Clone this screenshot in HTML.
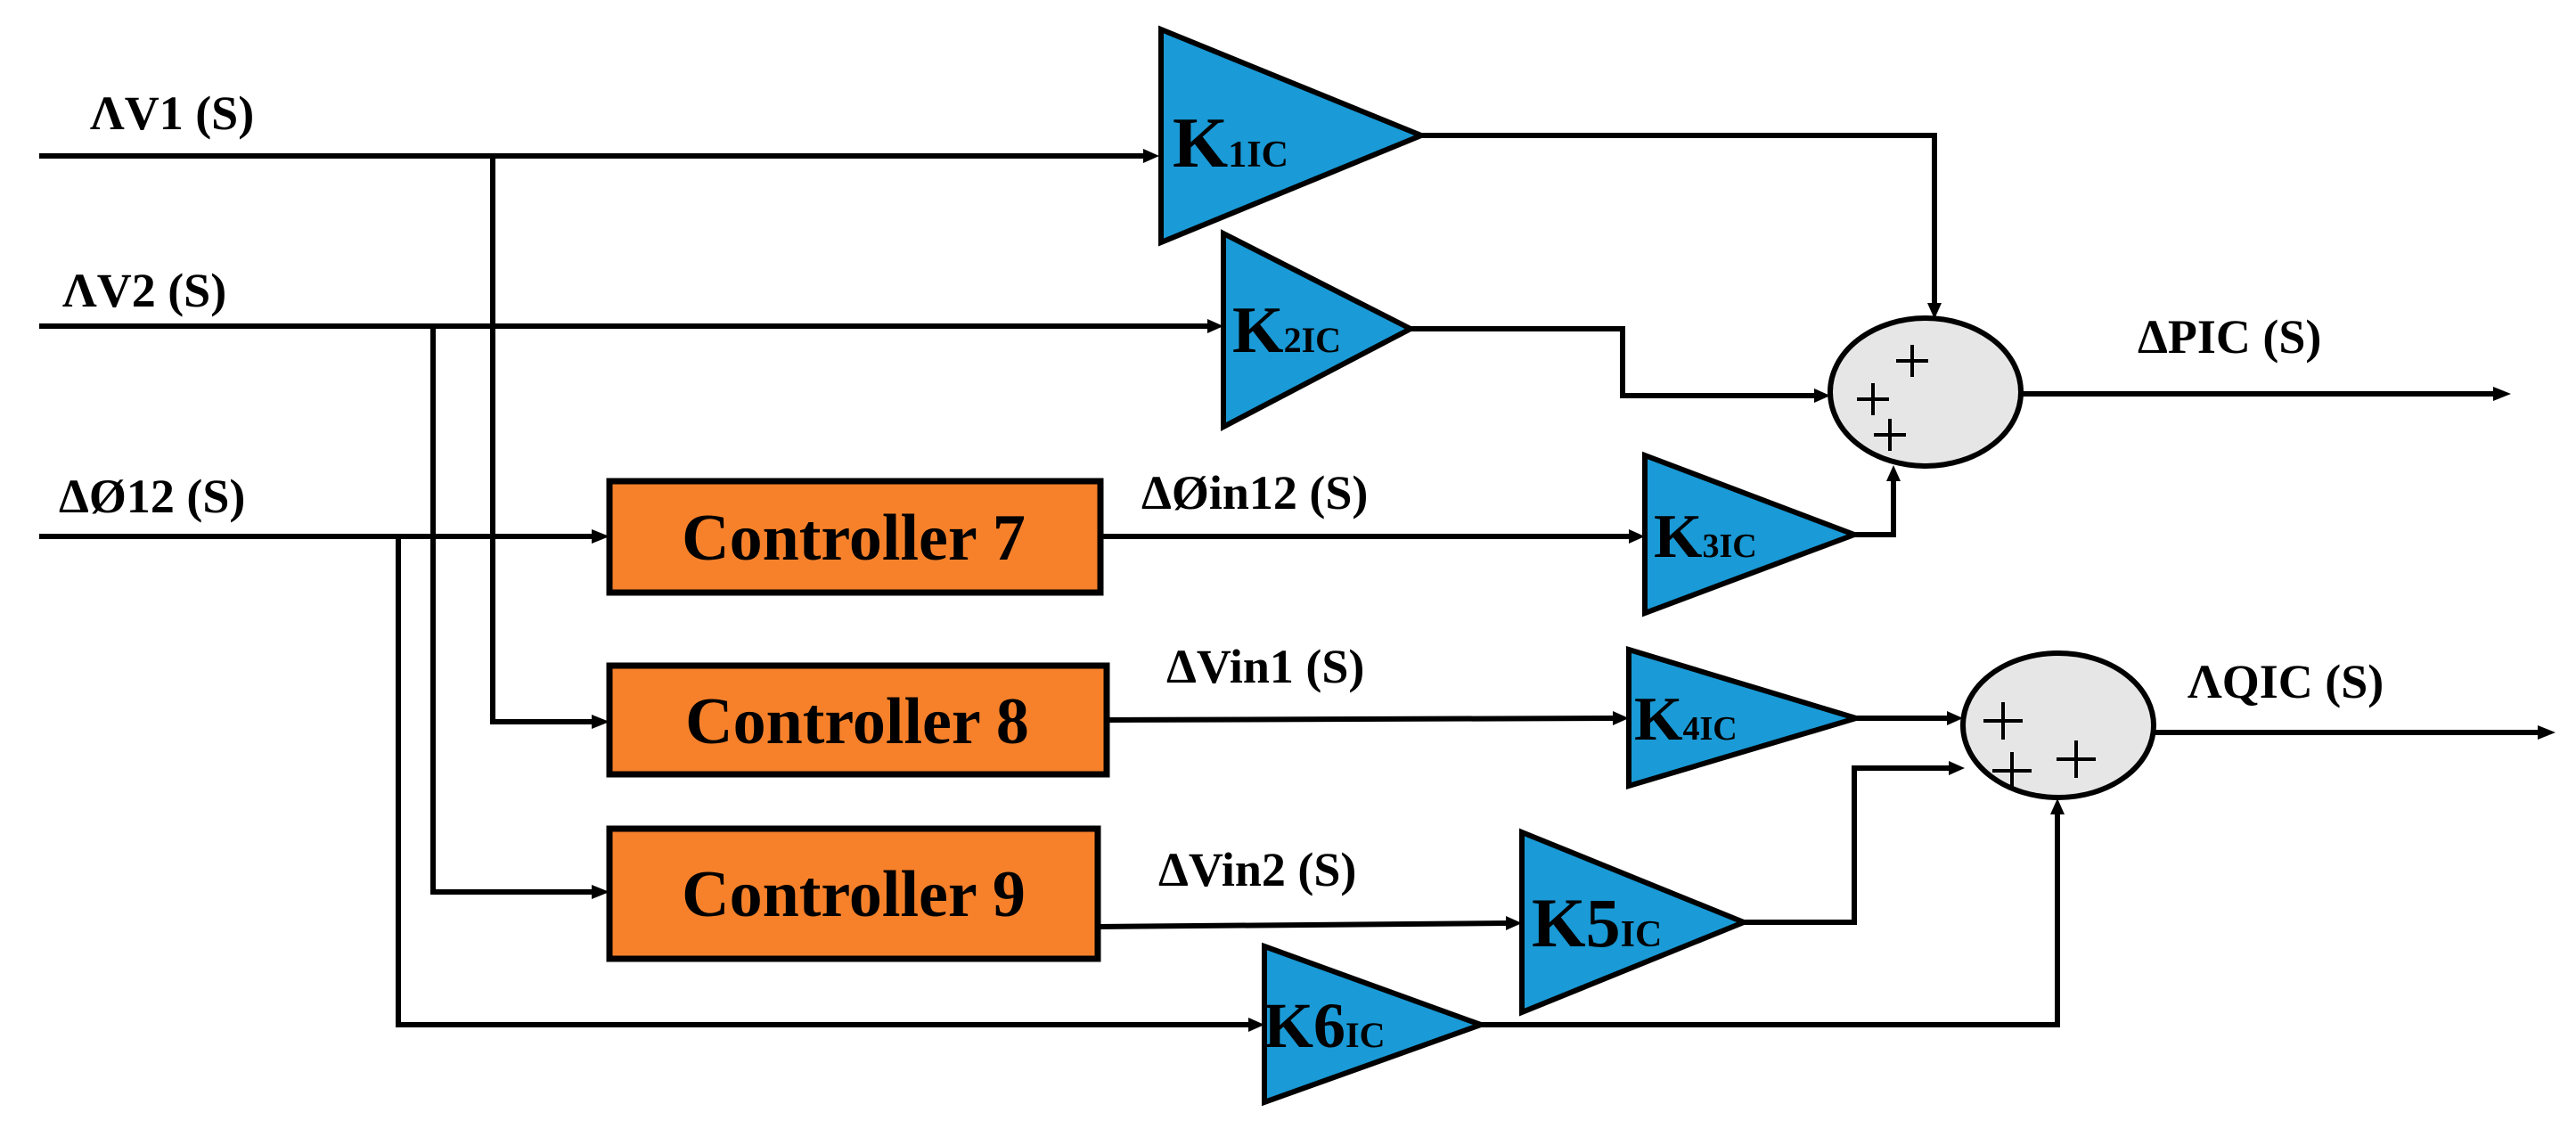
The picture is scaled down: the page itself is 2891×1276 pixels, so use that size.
<!DOCTYPE html>
<html><head><meta charset="utf-8"><style>
html,body{margin:0;padding:0;background:#fff;}
svg{display:block;}
</style></head><body>
<svg width="2891" height="1276" viewBox="0 0 2891 1276" xmlns="http://www.w3.org/2000/svg">
<g stroke="#000" stroke-width="6" fill="none">
<polyline points="44,175 1285,175"/>
<polyline points="44,366 1357,366"/>
<polyline points="44,602 666,602"/>
<polyline points="553,175 553,810 666,810"/>
<polyline points="486,366 486,1001 666,1001"/>
<polyline points="447,602 447,1150 1403,1150"/>
<polyline points="1235,602 1830,602"/>
<polyline points="1242,808 1812,806"/>
<polyline points="1232,1040 1692,1036"/>
<polyline points="1595,152 2171,152 2171,342"/>
<polyline points="1583,369 1821,369 1821,444 2038,444"/>
<polyline points="2081,600 2125,600 2125,536"/>
<polyline points="2083,806 2186,806"/>
<polyline points="1957,1035 2081,1035 2081,862 2188,862"/>
<polyline points="1662,1150 2309,1150 2309,912"/>
<polyline points="2268,442 2800,442"/>
<polyline points="2417,822 2850,822"/>
</g>
<g fill="#000">
<polygon points="1301,175 1283,167 1283,183"/>
<polygon points="1373,366 1355,358 1355,374"/>
<polygon points="684,602 664,594 664,610"/>
<polygon points="684,810 664,802 664,818"/>
<polygon points="684,1001 664,993 664,1009"/>
<polygon points="1419,1150 1401,1142 1401,1158"/>
<polygon points="1846,602 1828,594 1828,610"/>
<polygon points="1828,806 1810,798 1810,814"/>
<polygon points="1708,1036 1690,1028 1690,1044"/>
<polygon points="2171,358 2163,340 2179,340"/>
<polygon points="2054,444 2036,436 2036,452"/>
<polygon points="2125,522 2117,540 2133,540"/>
<polygon points="2203,806 2185,798 2185,814"/>
<polygon points="2205,862 2187,854 2187,870"/>
<polygon points="2309,896 2301,914 2317,914"/>
<polygon points="2818,442 2798,434 2798,450"/>
<polygon points="2868,822 2848,814 2848,830"/>
</g>
<g fill="#f7812a" stroke="#000" stroke-width="7">
<rect x="684" y="540" width="551" height="125"/>
<rect x="684" y="747" width="558" height="122"/>
<rect x="684" y="930" width="548" height="146"/>
</g>
<g font-family="'Liberation Serif', serif" font-weight="bold" fill="#000">
<text x="958" y="628" font-size="74" text-anchor="middle">Controller 7</text>
<text x="962" y="834" font-size="74" text-anchor="middle">Controller 8</text>
<text x="958" y="1028" font-size="74" text-anchor="middle">Controller 9</text>
</g>
<g fill="#1a9ad6" stroke="#000" stroke-width="6">
<polygon points="1303,33 1595,152 1303,272"/>
<polygon points="1373,262 1583,369 1373,479"/>
<polygon points="1846,511 2081,600 1846,688"/>
<polygon points="1828,729 2083,806 1828,882"/>
<polygon points="1708,934 1957,1035 1708,1136"/>
<polygon points="1419,1062 1662,1150 1419,1237"/>
</g>
<g font-family="'Liberation Serif', serif" font-weight="bold" fill="#000">
<text x="1316" y="187" font-size="80">K<tspan font-size="42">1IC</tspan></text>
<text x="1383" y="395" font-size="74">K<tspan font-size="40">2IC</tspan></text>
<text x="1856" y="625" font-size="70">K<tspan font-size="38">3IC</tspan></text>
<text x="1834" y="830" font-size="70">K<tspan font-size="38">4IC</tspan></text>
<text x="1719" y="1062" font-size="78">K5<tspan font-size="42">IC</tspan></text>
<text x="1418" y="1175" font-size="72">K6<tspan font-size="40">IC</tspan></text>
</g>
<g fill="#e6e6e6" stroke="#000" stroke-width="6">
<ellipse cx="2161" cy="440" rx="107" ry="83"/>
<ellipse cx="2310" cy="814" rx="107" ry="81"/>
</g>
<g stroke="#000" stroke-width="4">
<path d="M2128,405h36M2146,387v36"/>
<path d="M2084,448h36M2102,430v36"/>
<path d="M2103,488h36M2121,470v36"/>
<path d="M2226,809h44M2248,788v42"/>
<path d="M2236,865h44M2258,844v42"/>
<path d="M2308,852h44M2330,831v42"/>
</g>
<g font-family="'Liberation Serif', serif" font-weight="bold" fill="#000" font-size="54">
<text x="101" y="145">ΛV1 (S)</text>
<text x="70" y="344">ΛV2 (S)</text>
<text x="66" y="575">ΔØ12 (S)</text>
<text x="1281" y="571">ΔØin12 (S)</text>
<text x="1309" y="766">ΔVin1 (S)</text>
<text x="1300" y="994">ΔVin2 (S)</text>
<text x="2399" y="396">ΔPIC (S)</text>
<text x="2455" y="783">ΛQIC (S)</text>
</g>
</svg>
</body></html>
